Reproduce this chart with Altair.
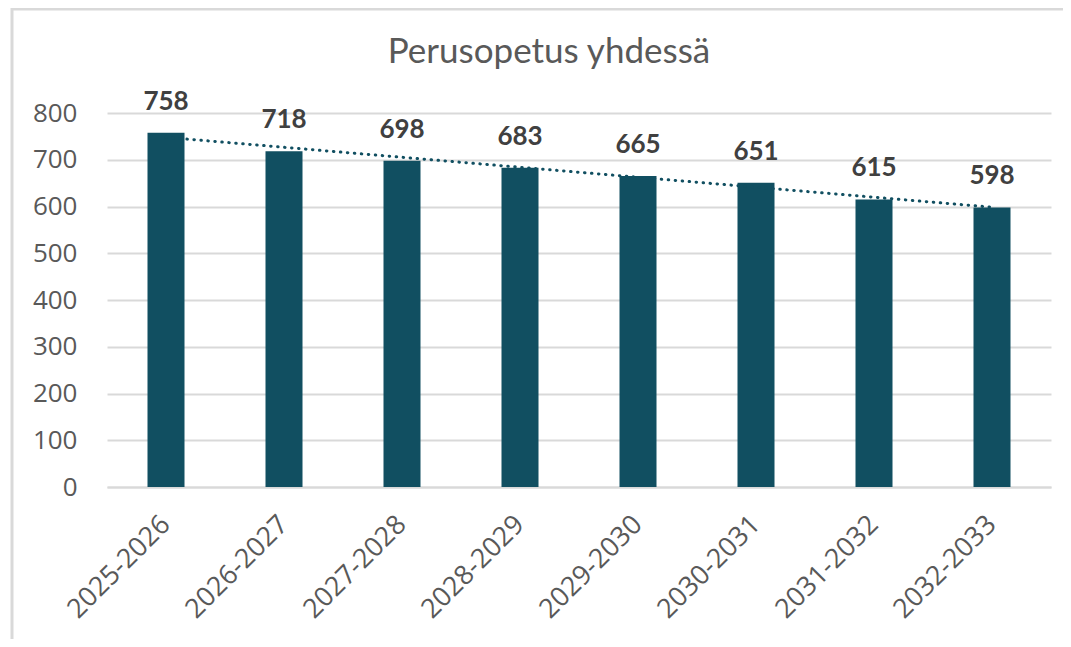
import altair as alt
import pandas as pd
import numpy as np

years = ["2025-2026", "2026-2027", "2027-2028", "2028-2029",
         "2029-2030", "2030-2031", "2031-2032", "2032-2033"]
values = [758, 718, 698, 683, 665, 651, 615, 598]
y_ticks = [0, 100, 200, 300, 400, 500, 600, 700, 800]
title_text = "Perusopetus yhdessä"

idx = np.arange(len(values))
slope, intercept = np.polyfit(idx, values, 1)
trend = list(intercept + slope * idx)

df = pd.DataFrame({"year": years, "value": values, "trend": trend})

BAR = "#114f61"
W, H = 944, 374
PL, PT = 99, 105

x_enc = alt.X("year:N", sort=years, title=None,
              scale=alt.Scale(paddingInner=0, paddingOuter=0),
              axis=alt.Axis(labelAngle=-45, labelAlign="right", labelBaseline="middle",
                            labelFontSize=27, labelColor="#595959", labelFont="Open Sans",
                            labelPadding=33, ticks=False, domain=True, domainColor="#d9d9d9",
                            domainWidth=2, grid=False))
y_enc = alt.Y("value:Q", title=None,
              scale=alt.Scale(domain=[0, 800], nice=False),
              axis=alt.Axis(values=y_ticks, labelFontSize=26, labelColor="#595959",
                            labelFont="Open Sans", labelPadding=30, ticks=False, domain=False,
                            gridColor="#d9d9d9", gridWidth=2))

base = alt.Chart(df)

bars = base.mark_bar(color=BAR, size=37).encode(x=x_enc, y=y_enc)

labels = base.mark_text(dy=-31, fontSize=26, fontWeight="bold", color="#404040",
                        font="Lato").encode(
    x=alt.X("year:N", sort=years), y="value:Q", text="value:Q")

trend_line = base.mark_line(color=BAR, strokeWidth=3, strokeDash=[0.5, 6.5],
                            strokeCap="round").encode(
    x=alt.X("year:N", sort=years), y="trend:Q")

one = pd.DataFrame({"k": [0]})
title = alt.Chart(one).mark_text(text=title_text, fontSize=35, font="Lato",
                                 color="#595959", align="center", baseline="middle").encode(
    x=alt.value(549 - 8 - PL), y=alt.value(52 - 8 - PT))

frame_top = alt.Chart(one).mark_rule(color="#d9d9d9", strokeWidth=3).encode(
    x=alt.value(-PL + 3), x2=alt.value(W + 20), y=alt.value(-PT + 1))
frame_left = alt.Chart(one).mark_rule(color="#d9d9d9", strokeWidth=3).encode(
    x=alt.value(-PL + 4), y=alt.value(-PT), y2=alt.value(H + 200))

chart = alt.layer(bars, trend_line, labels, title, frame_top, frame_left).properties(
    width=W, height=H,
    autosize=alt.AutoSizeParams(type="none"),
    padding={"left": PL, "top": PT, "right": 12, "bottom": 152},
).configure_view(stroke=None)

chart.save("out.html", embed_options={"renderer": "svg", "actions": False})
